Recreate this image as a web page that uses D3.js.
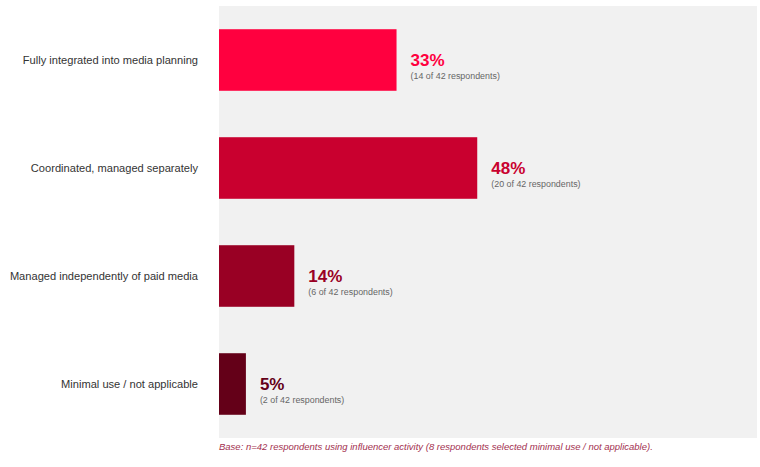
<!DOCTYPE html>
<html><head><meta charset="utf-8">
<script src="https://cdn.jsdelivr.net/npm/d3@7"></script>
<style>
body{margin:0;background:#fff;}
svg{display:block;font-family:"Liberation Sans",Arial,sans-serif;}
</style></head>
<body><svg id="chart" width="760" height="467"></svg>
<script>
const categories = ["Fully integrated into media planning","Coordinated, managed separately","Managed independently of paid media","Minimal use / not applicable"];
const percents = [33, 48, 14, 5];
const counts = [14, 20, 6, 2];
const total = 42;
const colors = ["#ff003f","#c9002f","#990024","#640018"];
const footnote = "Base: n=42 respondents using influencer activity (8 respondents selected minimal use / not applicable).";

const svg = d3.select("#chart");
const plot = {left:219, right:757, top:6, bottom:438};
svg.append("rect").attr("x",plot.left).attr("y",plot.top)
  .attr("width",plot.right-plot.left).attr("height",plot.bottom-plot.top).attr("fill","#f1f1f1");

const x = d3.scaleLinear().domain([0,100]).range([plot.left, plot.right]);
const y = d3.scaleBand().domain(categories).range([plot.top, plot.bottom]).paddingInner(0.43).paddingOuter(0.215);

const g = svg.append("g");
g.selectAll("rect.bar").data(categories).join("rect").attr("class","bar")
  .attr("x",x(0)).attr("y",d=>y(d)).attr("width",(d,i)=>x(percents[i])-x(0))
  .attr("height",y.bandwidth()).attr("fill",(d,i)=>colors[i]);

g.selectAll("text.cat").data(categories).join("text").attr("class","cat")
  .attr("x",plot.left-21).attr("y",d=>y(d)+y.bandwidth()/2).attr("dy","0.35em")
  .attr("text-anchor","end").attr("font-size",11.1).attr("fill","#333").text(d=>d);

g.selectAll("text.pct").data(categories).join("text").attr("class","pct")
  .attr("x",(d,i)=>x(percents[i])+14).attr("y",d=>y(d)+y.bandwidth()/2+6)
  .attr("font-size",17).attr("font-weight","bold").attr("fill",(d,i)=>colors[i])
  .text((d,i)=>percents[i]+"%");

g.selectAll("text.sub").data(categories).join("text").attr("class","sub")
  .attr("x",(d,i)=>x(percents[i])+14).attr("y",d=>y(d)+y.bandwidth()/2+19)
  .attr("font-size",8.9).attr("fill","#666")
  .text((d,i)=>`(${counts[i]} of ${total} respondents)`);

svg.append("text").attr("x",plot.left).attr("y",450).attr("font-size",9.5)
  .attr("font-style","italic").attr("fill","#a3304f").text(footnote);
</script></body></html>
